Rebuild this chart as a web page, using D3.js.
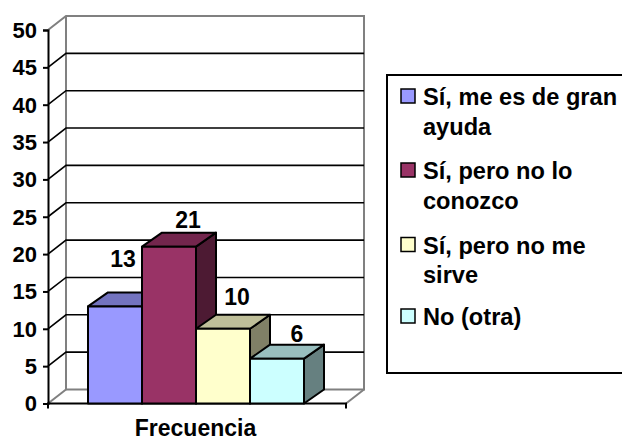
<!DOCTYPE html>
<html>
<head>
<meta charset="utf-8">
<script src="https://cdn.jsdelivr.net/npm/d3@7"></script>
<style>
  body { margin: 0; background: #fff; overflow: hidden; }
  svg { display: block; }
  text { font-family: "Liberation Sans", Arial, sans-serif; font-weight: bold; fill: #000; }
</style>
</head>
<body>
<svg width="622" height="441"></svg>
<script>
// values
var series = ["Sí, me es de gran ayuda", "Sí, pero no lo conozco", "Sí, pero no me sirve", "No (otra)"];
var values = [13, 21, 10, 6];
var frontColors = ["#9999ff", "#993366", "#ffffcc", "#ccffff"];
var topColors = ["#7373bf", "#73264d", "#bfbf99", "#99bfbf"];
var sideColors = ["#4d4d80", "#4d1a33", "#808066", "#668080"];
var yTicks = [0, 5, 10, 15, 20, 25, 30, 35, 40, 45, 50];
var category = "Frecuencia";
// legend lines, broken the way the picture breaks them
var legendLines = [["Sí, me es de gran", "ayuda"], ["Sí, pero no lo", "conozco"], ["Sí, pero no me", "sirve"], ["No (otra)"]];

var svg = d3.select("svg");

var y = d3.scaleLinear().domain([0, 50]).range([403.5, 30]);
var x = d3.scaleBand().domain(series).range([88, 304]);

// depth of the box and of the bars
var wallDx = 18, wallDy = -14;
var barDx = 20, barDy = -14;
var floorLeft = 48, floorRight = 346;

// back walls and floor
var walls = svg.append("g")
    .attr("fill", "none")
    .attr("stroke", "#808080")
    .attr("stroke-width", 2);
walls.append("path")
    .attr("d", "M" + floorLeft + "," + y(50) + "L" + (floorLeft + wallDx) + "," + (y(50) + wallDy) +
      "H" + (floorRight + wallDx) + "V" + (y(0) + wallDy) + "H" + (floorLeft + wallDx) + "V" + (y(50) + wallDy));
walls.append("path")
    .attr("d", "M" + floorLeft + "," + y(0) + "L" + (floorLeft + wallDx) + "," + (y(0) + wallDy));
walls.append("path")
    .attr("d", "M" + floorRight + "," + y(0) + "L" + (floorRight + wallDx) + "," + (y(0) + wallDy));

// gridlines, along the side wall and across the back wall
svg.append("g")
  .selectAll("path")
  .data(yTicks.filter(function(d) { return d > 0 && d < 50; }))
  .enter().append("path")
    .attr("fill", "none")
    .attr("stroke", "#000")
    .attr("stroke-width", 1.6)
    .attr("d", function(d) {
      return "M" + floorLeft + "," + y(d) + "L" + (floorLeft + wallDx) + "," + (y(d) + wallDy) + "H" + (floorRight + wallDx);
    });

// y axis
var yAxis = svg.append("g")
    .attr("transform", "translate(" + floorLeft + ",0)")
    .call(d3.axisLeft(y).tickValues(yTicks).tickSize(5).tickPadding(6));
yAxis.selectAll("path, line").attr("stroke", "#000").attr("stroke-width", 2);
yAxis.selectAll("text").attr("font-size", 22).attr("font-family", null).attr("dy", "0.34em");

// floor line with its two ticks
svg.append("path")
    .attr("fill", "none")
    .attr("stroke", "#000")
    .attr("stroke-width", 2)
    .attr("d", "M" + floorLeft + "," + (y(0) + 5) + "V" + y(0) + "H" + floorRight + "V" + (y(0) + 5));

// bars: side and top first so the next bar's front covers them
var bars = svg.append("g")
  .selectAll("g")
  .data(series)
  .enter().append("g")
    .attr("stroke", "#000")
    .attr("stroke-width", 2)
    .attr("stroke-linejoin", "round");

bars.append("path")
    .attr("fill", function(d, i) { return sideColors[i]; })
    .attr("d", function(d, i) {
      var r = x(d) + x.bandwidth();
      return "M" + r + "," + y(values[i]) + "l" + barDx + "," + barDy + "V" + (y(0) + barDy) + "L" + r + "," + y(0) + "Z";
    });
bars.append("path")
    .attr("fill", function(d, i) { return topColors[i]; })
    .attr("d", function(d, i) {
      return "M" + x(d) + "," + y(values[i]) + "l" + barDx + "," + barDy + "h" + x.bandwidth() + "l" + (-barDx) + "," + (-barDy) + "Z";
    });
bars.append("rect")
    .attr("fill", function(d, i) { return frontColors[i]; })
    .attr("x", function(d) { return x(d); })
    .attr("y", function(d, i) { return y(values[i]); })
    .attr("width", x.bandwidth())
    .attr("height", function(d, i) { return y(0) - y(values[i]); });

// value labels sit at uneven spots in the original
var labelDx = [8, 19, 14, 20];
var labelDy = [-39, -19, -24, -17];
svg.append("g")
  .selectAll("text")
  .data(series)
  .enter().append("text")
    .attr("text-anchor", "middle")
    .attr("font-size", 23)
    .attr("x", function(d, i) { return x(d) + x.bandwidth() / 2 + labelDx[i]; })
    .attr("y", function(d, i) { return y(values[i]) + labelDy[i]; })
    .text(function(d, i) { return values[i]; });

// category label, just clear of the bottom edge
svg.append("text")
    .attr("text-anchor", "middle")
    .attr("font-size", 23)
    .attr("x", 195.5)
    .attr("y", 435.5)
    .text(category);

// legend
svg.append("rect")
    .attr("x", 387)
    .attr("y", 75)
    .attr("width", 240)
    .attr("height", 298)
    .attr("fill", "#fff")
    .attr("stroke", "#000")
    .attr("stroke-width", 2);

var legendY = [96, 170, 244.5, 316];
var lineHeight = 29.5;
var legend = svg.append("g")
  .selectAll("g")
  .data(series)
  .enter().append("g")
    .attr("transform", function(d, i) { return "translate(401," + legendY[i] + ")"; });
legend.append("rect")
    .attr("y", -7)
    .attr("width", 14)
    .attr("height", 14)
    .attr("stroke", "#000")
    .attr("stroke-width", 1.5)
    .attr("fill", function(d, i) { return frontColors[i]; });
legend.append("text")
    .attr("font-size", 23.6)
    .selectAll("tspan")
    .data(function(d, i) { return legendLines[i]; })
    .enter().append("tspan")
      .attr("x", 22)
      .attr("y", function(d, j) { return 9 + j * lineHeight; })
      .text(function(d) { return d; });
</script>
</body>
</html>
